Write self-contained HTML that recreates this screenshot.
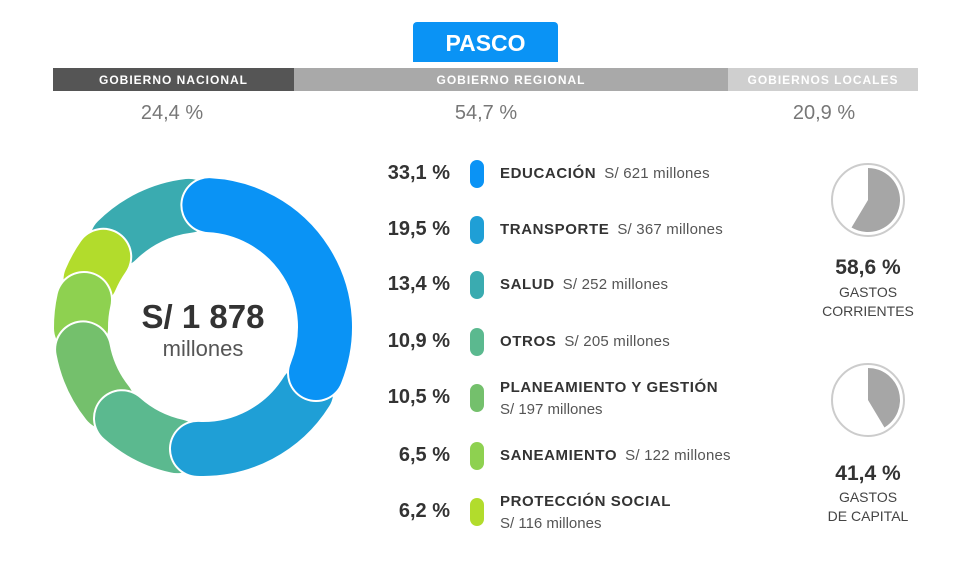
<!DOCTYPE html>
<html><head><meta charset="utf-8"><style>
body{margin:0;width:968px;height:576px;background:#fff;font-family:"Liberation Sans",sans-serif;position:relative;overflow:hidden}
.a{position:absolute}
.bar{position:absolute;top:68px;height:23px;color:#fff;font-size:12px;font-weight:bold;letter-spacing:1px;text-align:center;line-height:25px}
.pct{position:absolute;top:102px;font-size:20px;color:#777;width:200px;text-align:center}
.rp{position:absolute;left:340px;width:110px;text-align:right;font-size:20px;font-weight:bold;color:#333}
.pill{position:absolute;left:470px;width:14px;height:28px;border-radius:7px}
.lb{position:absolute;left:500px;font-size:15px;font-weight:bold;color:#333;letter-spacing:0.6px;white-space:nowrap}
.lb span{font-weight:normal;color:#555;letter-spacing:0.2px;margin-left:8px}
.am{position:absolute;left:500px;font-size:15px;color:#555;white-space:nowrap}
.gt{position:absolute;left:808px;width:120px;text-align:center;color:#444;font-size:14px}
</style></head><body>
<div class="a" style="left:413px;top:22px;width:145px;height:40px;background:#0A93F5;border-radius:4px 4px 0 0;color:#fff;font-weight:bold;font-size:23px;text-align:center;line-height:42px">PASCO</div>
<div class="bar" style="left:53px;width:241px;background:#555">GOBIERNO NACIONAL</div>
<div class="bar" style="left:294px;width:434px;background:#A9A9A9">GOBIERNO REGIONAL</div>
<div class="bar" style="left:728px;width:190px;background:#CFCFCF">GOBIERNOS LOCALES</div>
<div class="pct" style="left:72px">24,4 %</div>
<div class="pct" style="left:386px">54,7 %</div>
<div class="pct" style="left:724px">20,9 %</div>

<svg class="a" style="left:0;top:0" width="968" height="576" id="donut"></svg>
<div class="a" style="left:103px;top:298px;width:200px;text-align:center;font-size:33px;font-weight:bold;color:#333">S/ 1 878</div>
<div class="a" style="left:103px;top:336px;width:200px;text-align:center;font-size:22px;color:#555">millones</div>

<div id="rows"></div>
<svg class="a" style="left:0;top:0" width="968" height="576" id="pies"></svg>
<div class="gt" style="top:256px;font-size:21px;font-weight:bold;color:#333">58,6 %</div>
<div class="gt" style="top:283px;line-height:19px">GASTOS<br>CORRIENTES</div>
<div class="gt" style="top:462px;font-size:21px;font-weight:bold;color:#333">41,4 %</div>
<div class="gt" style="top:488px;line-height:19px">GASTOS<br>DE CAPITAL</div>
<script>
const categories=["EDUCACIÓN","TRANSPORTE","SALUD","OTROS","PLANEAMIENTO Y GESTIÓN","SANEAMIENTO","PROTECCIÓN SOCIAL"];
const shares=[33.1,19.5,13.4,10.9,10.5,6.5,6.2];
const amounts=[621,367,252,205,197,122,116];
const colors=["#0A93F5","#1F9FD6","#3AABB0","#5BB98F","#74C06C","#8ED150","#B2DC2C"];
const drawOrder=[0,1,3,4,5,6,2];
const gasto=[58.6,41.4];
const NS="http://www.w3.org/2000/svg";
const cx=203,cy=327,R=122,W=54;
const svg=document.getElementById('donut');
function pt(r,a){const t=(a-90)*Math.PI/180;return [cx+r*Math.cos(t),cy+r*Math.sin(t)];}
let start=-3;const segs=[];
drawOrder.forEach(i=>{const sw=shares[i]*3.6;segs.push([i,start,start+sw]);start+=sw;});
for(let k=segs.length-1;k>=0;k--){const [i,a0,a1]=segs[k];
 const p0=pt(R,a0+6),p1=pt(R,a1-4);const large=(a1-a0-10)>180?1:0;
 const d=`M${p0[0]},${p0[1]} A${R},${R} 0 ${large} 1 ${p1[0]},${p1[1]}`;
 const w=document.createElementNS(NS,'path');w.setAttribute('d',d);w.setAttribute('fill','none');w.setAttribute('stroke','#fff');w.setAttribute('stroke-width',W+4);w.setAttribute('stroke-linecap','round');
 
 svg.appendChild(w);
 const p=document.createElementNS(NS,'path');p.setAttribute('d',d);p.setAttribute('fill','none');p.setAttribute('stroke',colors[i]);p.setAttribute('stroke-width',W);p.setAttribute('stroke-linecap','round');
 
 svg.appendChild(p);}
const rowsY=[174,230,285,342,398,456,512];
const rows=document.getElementById('rows');
categories.forEach((c,i)=>{const y=rowsY[i];const two=(i==4||i==6);
 const p=document.createElement('div');p.className='rp';p.style.top=(y-12)+'px';p.textContent=shares[i].toFixed(1).replace('.',',')+' %';
 
 rows.appendChild(p);
 const pl=document.createElement('div');pl.className='pill';pl.style.top=(y-14)+'px';pl.style.background=colors[i];
 
 rows.appendChild(pl);
 const l=document.createElement('div');l.className='lb';l.style.top=(two?y-19:y-9)+'px';
 l.innerHTML=c+(two?'':'<span>S/ '+amounts[i]+' millones</span>');
 
 rows.appendChild(l);
 if(two){const a=document.createElement('div');a.className='am';a.style.top=(y+3)+'px';a.textContent='S/ '+amounts[i]+' millones';
 
 rows.appendChild(a);}
});
const pies=document.getElementById('pies');const pcs=[[868,200],[868,400]];
gasto.forEach((g,i)=>{const [x,y]=pcs[i];
 const c=document.createElementNS(NS,'circle');c.setAttribute('cx',x);c.setAttribute('cy',y);c.setAttribute('r',36);c.setAttribute('fill','#fff');c.setAttribute('stroke','#ccc');c.setAttribute('stroke-width',2);
 
 pies.appendChild(c);
 const r=32,a=g*3.6*Math.PI/180;const ex=x+r*Math.sin(a),ey=y-r*Math.cos(a);
 const s=document.createElementNS(NS,'path');s.setAttribute('d',`M${x},${y} L${x},${y-r} A${r},${r} 0 ${g>50?1:0} 1 ${ex},${ey} Z`);s.setAttribute('fill','#A6A6A6');
 
 pies.appendChild(s);});
</script>
</body></html>
